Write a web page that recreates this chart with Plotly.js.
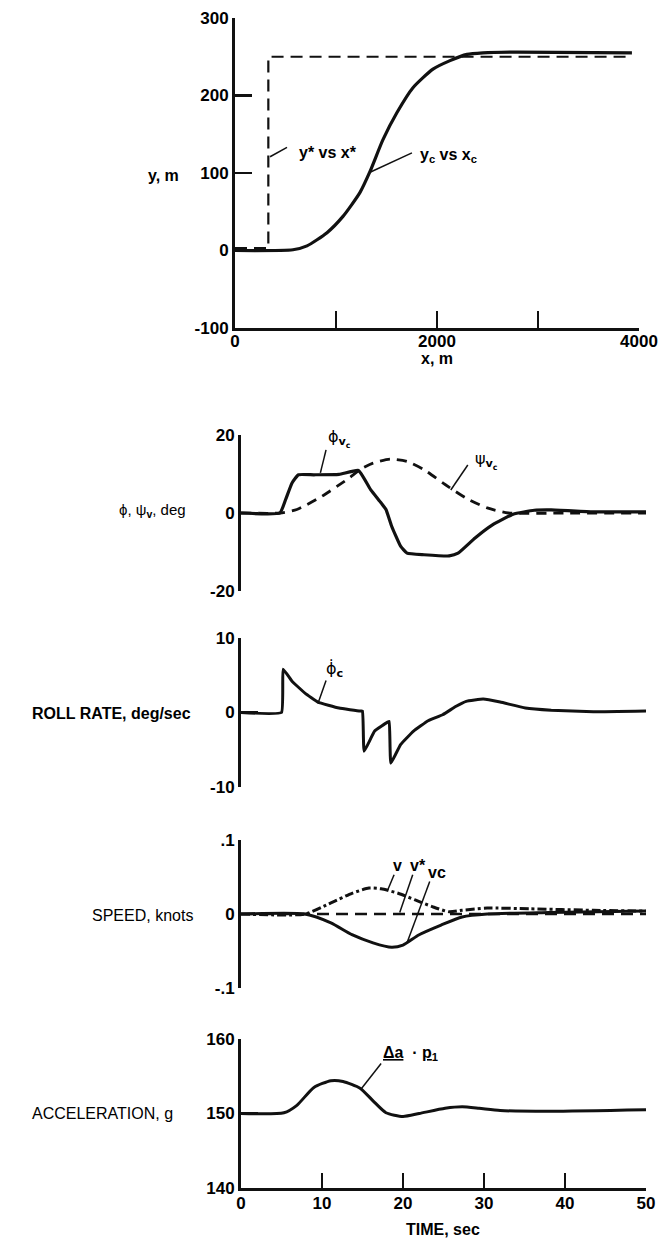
<!DOCTYPE html>
<html>
<head>
<meta charset="utf-8">
<script src="https://cdn.plot.ly/plotly-3.0.1.min.js"></script>
<style>body{margin:0;background:#fff}#chart{width:661px;height:1239px}</style>
</head>
<body>
<div id="chart"></div>
<script>
// ---- Panel 1: trajectory, y vs x (m)
var xStar = [0, 330, 330, 3930];
var yStar = [3, 3, 250, 250];
var xC = [0, 574, 713, 911, 1069, 1238, 1337, 1465, 1604, 1762, 1960, 2129, 2297, 2455, 2792, 3930];
var yC = [0, 1, 6, 23, 44, 75, 102, 143, 178, 210, 234, 245, 253, 255, 256, 255];

// ---- Panel 2: phi and psi (deg) vs time
var tPhi = [0, 4.8, 5.5, 6.3, 7.1, 9.0, 12.1, 14.5, 16.0, 17.3, 17.9, 18.6, 19.7, 20.5, 22.6, 25.7, 26.8, 28.9, 31.0, 33.6, 36.2, 38.3, 43.5, 50];
var phiVc = [0, 0, 3.4, 7.7, 9.8, 9.8, 9.9, 10.9, 6.0, 2.6, 0.9, -3.4, -8.5, -10.3, -10.7, -11.0, -10.3, -6.4, -3.1, -0.3, 0.7, 0.8, 0.3, 0.3];
var tPsi = [0, 4.8, 6.9, 10.0, 13.1, 15.0, 16.3, 18.4, 20.5, 22.6, 25.2, 27.8, 30.4, 33.0, 40, 50];
var psiVc = [0, 0, 0.9, 4.3, 8.6, 11.5, 12.8, 13.8, 13.2, 11.1, 7.3, 3.8, 1.3, 0, 0, 0];

// ---- Panel 3: roll rate (deg/sec)
var tRoll = [0, 5.0, 5.2, 6.3, 7.9, 9.5, 12.1, 14.7, 15.0, 15.2, 16.5, 18.1, 18.3, 18.5, 19.7, 21.3, 23.1, 24.9, 26.5, 27.8, 29.9, 32.0, 35.1, 38.3, 43.5, 50];
var rollRate = [0, 0, 5.8, 4.2, 2.6, 1.4, 0.6, 0.2, 0.2, -5.2, -2.5, -1.3, -1.2, -6.8, -4.3, -2.5, -1.1, -0.3, 0.8, 1.5, 1.8, 1.4, 0.6, 0.3, 0.1, 0.2];

// ---- Panel 4: speed (knots)
var tV = [0, 7.9, 11.1, 13.7, 15.8, 17.3, 19.4, 21.5, 23.6, 25.7, 27.3, 30.4, 35.7, 43.5, 50];
var vSpeed = [0, 0, 0.015, 0.028, 0.035, 0.034, 0.028, 0.019, 0.010, 0.003, 0.005, 0.008, 0.007, 0.005, 0.004];
var tVStar = [0, 50];
var vStar = [0, 0];
var tVc = [0, 7.9, 11.1, 13.7, 16.3, 18.6, 20.0, 22.0, 24.7, 27.3, 30.4, 38.0, 50];
var vc = [0, 0, -0.012, -0.028, -0.039, -0.045, -0.042, -0.028, -0.015, -0.004, 0, 0.002, 0.004];

// ---- Panel 5: acceleration (g)
var tAcc = [0, 5.3, 6.9, 9.0, 11.1, 12.6, 14.7, 16.3, 17.9, 20.0, 22.0, 25.2, 27.3, 29.4, 32.0, 38.3, 50];
var accel = [150, 150.1, 151.1, 153.5, 154.4, 154.3, 153.4, 151.7, 150.1, 149.6, 150.0, 150.7, 150.9, 150.7, 150.4, 150.3, 150.5];

// tick labels
var xTickVals1 = [0, 1000, 2000, 3000, 4000];
var xTickText1 = ['0', '', '2000', '', '4000'];
var yTickVals1 = [-100, 0, 100, 200, 300];
var yTickText1 = ['-100', '0', '100', '200', '300'];
var yTickVals2 = [-20, 0, 20];
var yTickText2 = ['-20', '0', '20'];
var yTickVals3 = [-10, 0, 10];
var yTickText3 = ['-10', '0', '10'];
var yTickVals4 = [-0.1, 0, 0.1];
var yTickText4 = ['-.1', '0', '.1'];
var yTickVals5 = [140, 150, 160];
var tTickVals = [0, 10, 20, 30, 40, 50];

var W = 661, H = 1239;
function px(v){ return v / W; }
function py(v){ return 1 - v / H; }

var tickFont = {family: 'Liberation Sans, Arial, sans-serif', size: 17, color: '#000', weight: 'bold'};
var black = '#111';
var lw = 3;

function yAx(dom, range, vals, text) {
  var a = {domain: dom, range: range, tickvals: vals, showline: true, linecolor: black, linewidth: lw,
    ticks: 'inside', ticklen: 17, tickwidth: 2.5, tickcolor: black, showgrid: false, zeroline: false,
    tickfont: tickFont, fixedrange: true, mirror: false};
  if (text) a.ticktext = text;
  return a;
}
function hiddenX(dom, anchor) {
  return {domain: dom, range: [0, 50], visible: false, anchor: anchor, fixedrange: true};
}

var tDom = [px(241), px(646)];

var traces = [
  {x: xStar, y: yStar, xaxis: 'x', yaxis: 'y', mode: 'lines', line: {color: black, width: 2.2, dash: '12px,7px'}, name: 'y* vs x*'},
  {x: xC, y: yC, xaxis: 'x', yaxis: 'y', mode: 'lines', line: {color: black, width: 3.2, shape: 'spline', smoothing: 0.6}, name: 'yc vs xc'},
  {x: tPsi, y: psiVc, xaxis: 'x2', yaxis: 'y2', mode: 'lines', line: {color: black, width: 2.8, dash: '10px,7px', shape: 'spline', smoothing: 0.6}, name: 'psi'},
  {x: tPhi, y: phiVc, xaxis: 'x2', yaxis: 'y2', mode: 'lines', line: {color: black, width: 3.2, shape: 'spline', smoothing: 0.4}, name: 'phi'},
  {x: tRoll, y: rollRate, xaxis: 'x3', yaxis: 'y3', mode: 'lines', line: {color: black, width: 3, shape: 'spline', smoothing: 0.3}, name: 'roll'},
  {x: tVStar, y: vStar, xaxis: 'x4', yaxis: 'y4', mode: 'lines', line: {color: black, width: 2.4, dash: '12px,7px'}, name: 'v*'},
  {x: tV, y: vSpeed, xaxis: 'x4', yaxis: 'y4', mode: 'lines', line: {color: black, width: 3, dash: 'dashdot', shape: 'spline', smoothing: 0.6}, name: 'v'},
  {x: tVc, y: vc, xaxis: 'x4', yaxis: 'y4', mode: 'lines', line: {color: black, width: 3, shape: 'spline', smoothing: 0.6}, name: 'vc'},
  {x: tAcc, y: accel, xaxis: 'x5', yaxis: 'y5', mode: 'lines', line: {color: black, width: 3, shape: 'spline', smoothing: 0.6}, name: 'accel'}
];

var annFont = {family: 'Liberation Sans, Arial, sans-serif', size: 16, color: '#000'};
var annBold = {family: 'Liberation Sans, Arial, sans-serif', size: 16, color: '#000', weight: 'bold'};
var greekFont = {family: 'DejaVu Sans, sans-serif', size: 16, color: '#000'};
function lab(text, x, y, xref, yref, font, xanchor) {
  return {text: text, x: x, y: y, xref: xref, yref: yref, showarrow: false, font: font || annBold,
    xanchor: xanchor || 'center', yanchor: 'middle'};
}

var annotations = [
  // y titles
  lab('y, m', px(181), py(175), 'paper', 'paper', annBold, 'right'),
  lab('ϕ, ψ<sub><b>v</b></sub>, deg', px(188), py(510), 'paper', 'paper', {family: 'Liberation Sans, Arial, sans-serif', size: 15, color: '#000'}, 'right'),
  lab('ROLL RATE, deg/sec', px(193), py(713), 'paper', 'paper', annBold, 'right'),
  lab('SPEED, knots', px(195), py(915), 'paper', 'paper', annFont, 'right'),
  lab('ACCELERATION, g', px(175), py(1113), 'paper', 'paper', annFont, 'right'),
  // x titles
  lab('x, m', px(437), py(358), 'paper', 'paper', annBold),
  lab('TIME, sec', px(443), py(1229), 'paper', 'paper', annBold),
  // curve labels
  lab('y* vs x*', 614, 126, 'x', 'y', annBold, 'left'),
  lab('y<sub>c</sub> vs x<sub>c</sub>', 1812, 122, 'x', 'y', annBold, 'left'),
  lab('ϕ<sub><b>v</b><sub><b>c</b></sub></sub>', 12.2, 19.0, 'x2', 'y2', greekFont),
  lab('ψ<sub><b>v</b><sub><b>c</b></sub></sub>', 30.3, 13.4, 'x2', 'y2', greekFont),
  lab('ϕ̇<sub><b>c</b></sub>', 11.6, 5.8, 'x3', 'y3', greekFont),
  lab('v', 19.3, 0.066, 'x4', 'y4', annBold),
  lab('v*', 21.9, 0.066, 'x4', 'y4', annBold),
  lab('vc', 24.2, 0.056, 'x4', 'y4', annBold),
  lab('<span style="text-decoration:underline">Δa</span>  · <span style="text-decoration:underline">p</span><sub>1</sub>', 20.9, 158.0, 'x5', 'y5', annBold)
];

function seg(x0, y0, x1, y1, xr, yr) {
  return {type: 'line', x0: x0, y0: y0, x1: x1, y1: y1, xref: xr, yref: yr, line: {color: black, width: 1.5}};
}
var shapes = [
  seg(347, 121, 515, 133, 'x', 'y'),
  seg(1337, 101, 1752, 126, 'x', 'y'),
  seg(10.5, 16.2, 9.8, 10.3, 'x2', 'y2'),
  seg(28.0, 12.3, 25.9, 5.9, 'x2', 'y2'),
  seg(10.5, 4.3, 9.5, 1.2, 'x3', 'y3'),
  seg(18.9, 0.053, 18.1, 0.032, 'x4', 'y4'),
  seg(21.2, 0.053, 19.6, 0.002, 'x4', 'y4'),
  seg(23.3, 0.044, 20.5, -0.039, 'x4', 'y4'),
  seg(17.3, 156.7, 14.9, 153.4, 'x5', 'y5')
];

var layout = {
  width: W, height: H, margin: {l: 0, r: 0, t: 0, b: 0},
  paper_bgcolor: '#fff', plot_bgcolor: 'rgba(0,0,0,0)', showlegend: false,
  font: {family: 'Liberation Sans, Arial, sans-serif', color: '#000'},
  xaxis: {domain: [px(235), px(639)], range: [0, 4000], anchor: 'y', tickvals: xTickVals1, ticktext: xTickText1,
    showline: true, linecolor: black, linewidth: lw, ticks: 'inside', ticklen: 17, tickwidth: 2.5, tickcolor: black,
    showgrid: false, zeroline: false, tickfont: tickFont, fixedrange: true, ticklabelstandoff: -4},
  yaxis: Object.assign(yAx([py(328), py(18)], [-100, 300], yTickVals1, yTickText1), {anchor: 'x'}),
  xaxis2: hiddenX(tDom, 'y2'),
  yaxis2: Object.assign(yAx([py(591), py(435)], [-20, 20], yTickVals2, yTickText2), {anchor: 'x2'}),
  xaxis3: hiddenX(tDom, 'y3'),
  yaxis3: Object.assign(yAx([py(787), py(638)], [-10, 10], yTickVals3, yTickText3), {anchor: 'x3'}),
  xaxis4: hiddenX(tDom, 'y4'),
  yaxis4: Object.assign(yAx([py(988), py(840)], [-0.1, 0.1], yTickVals4, yTickText4), {anchor: 'x4'}),
  xaxis5: {domain: tDom, range: [0, 50], anchor: 'y5', tickvals: tTickVals,
    showline: true, linecolor: black, linewidth: lw, ticks: 'inside', ticklen: 15, tickwidth: 2.5, tickcolor: black,
    showgrid: false, zeroline: false, tickfont: tickFont, fixedrange: true, ticklabelstandoff: -2},
  yaxis5: Object.assign(yAx([py(1188), py(1039)], [140, 160], yTickVals5), {anchor: 'x5'}),
  annotations: annotations,
  shapes: shapes
};

Plotly.newPlot('chart', traces, layout, {staticPlot: true, displayModeBar: false});
</script>
</body>
</html>
